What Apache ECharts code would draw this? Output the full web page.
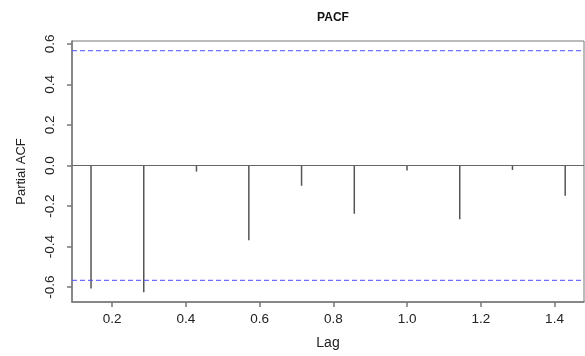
<!DOCTYPE html>
<html>
<head>
<meta charset="utf-8">
<script src="https://cdn.jsdelivr.net/npm/echarts@6/dist/echarts.min.js"></script>
<style>
html,body{margin:0;padding:0;background:#fff;}
#pacf{width:585px;height:356px;}
</style>
</head>
<body>
<div id="pacf"></div>
<script>
// lags (frequency 7) and partial autocorrelations
var lags = [0.143, 0.286, 0.429, 0.571, 0.714, 0.857, 1.000, 1.143, 1.286, 1.429];
var pacfVals = [-0.606, -0.625, -0.03, -0.369, -0.10, -0.238, -0.025, -0.265, -0.022, -0.149];
var clim = 0.566;
var xTicks = [0.2, 0.4, 0.6, 0.8, 1.0, 1.2, 1.4];
var yTicks = [-0.6, -0.4, -0.2, 0.0, 0.2, 0.4, 0.6];
var xRange = [0.0914, 1.48];
var yRange = [-0.673, 0.614];

var chart = echarts.init(document.getElementById('pacf'));
var font = '"Liberation Sans", Arial, sans-serif';

var data = [];
for (var i = 0; i < lags.length; i++) {
    data.push([lags[i], pacfVals[i]]);
}

// horizontal reference line across the whole x range
function hline(y, color, type, width) {
    return {
        type: 'line',
        data: [[xRange[0], y], [xRange[1], y]],
        symbol: 'none',
        silent: true,
        lineStyle: {color: color, type: type, width: width}
    };
}

var option = {
    animation: false,
    backgroundColor: '#fff',
    title: {
        text: 'PACF',
        left: 328,
        top: 7,
        textAlign: 'center',
        textStyle: {fontFamily: font, fontSize: 12, fontWeight: 'bold', color: '#111'}
    },
    grid: {
        left: 72, top: 41, right: 1, bottom: 54,
        show: true, borderColor: '#777', borderWidth: 1
    },
    xAxis: {
        type: 'value',
        min: xRange[0],
        max: xRange[1],
        name: 'Lag',
        nameLocation: 'middle',
        nameGap: 34,
        nameTextStyle: {fontFamily: font, fontSize: 14, color: '#222'},
        splitLine: {show: false},
        axisLine: {onZero: false, lineStyle: {color: '#777', width: 1.5}},
        axisTick: {length: 5, customValues: xTicks, lineStyle: {color: '#777', width: 1.5}},
        axisLabel: {
            customValues: xTicks,
            margin: 10,
            fontFamily: font, fontSize: 13.5, color: '#222',
            formatter: function (v) { return v.toFixed(1); }
        }
    },
    yAxis: {
        type: 'value',
        min: yRange[0],
        max: yRange[1],
        name: 'Partial ACF',
        nameLocation: 'middle',
        nameGap: 44,
        nameTextStyle: {fontFamily: font, fontSize: 13, color: '#222'},
        splitLine: {show: false},
        axisLine: {onZero: false, lineStyle: {color: '#777', width: 1.5}},
        axisTick: {length: 5, customValues: yTicks, lineStyle: {color: '#777', width: 1.5}},
        axisLabel: {
            customValues: yTicks,
            rotate: 90,
            margin: 15,
            fontFamily: font, fontSize: 13.5, color: '#222',
            formatter: function (v) { return v.toFixed(1); }
        }
    },
    series: [
        hline(0, '#666', 'solid', 1.2),
        hline(clim, '#4d4dff', [5, 3], 1),
        hline(-clim, '#4d4dff', [5, 3], 1),
        {
            type: 'custom',
            data: data,
            renderItem: function (params, api) {
                var p0 = api.coord([api.value(0), 0]);
                var p1 = api.coord([api.value(0), api.value(1)]);
                return {
                    type: 'line',
                    shape: {x1: p0[0], y1: p0[1], x2: p1[0], y2: p1[1]},
                    style: {stroke: '#555', lineWidth: 1.5}
                };
            }
        }
    ]
};
chart.setOption(option);
window.onresize = chart.resize;
</script>
</body>
</html>
